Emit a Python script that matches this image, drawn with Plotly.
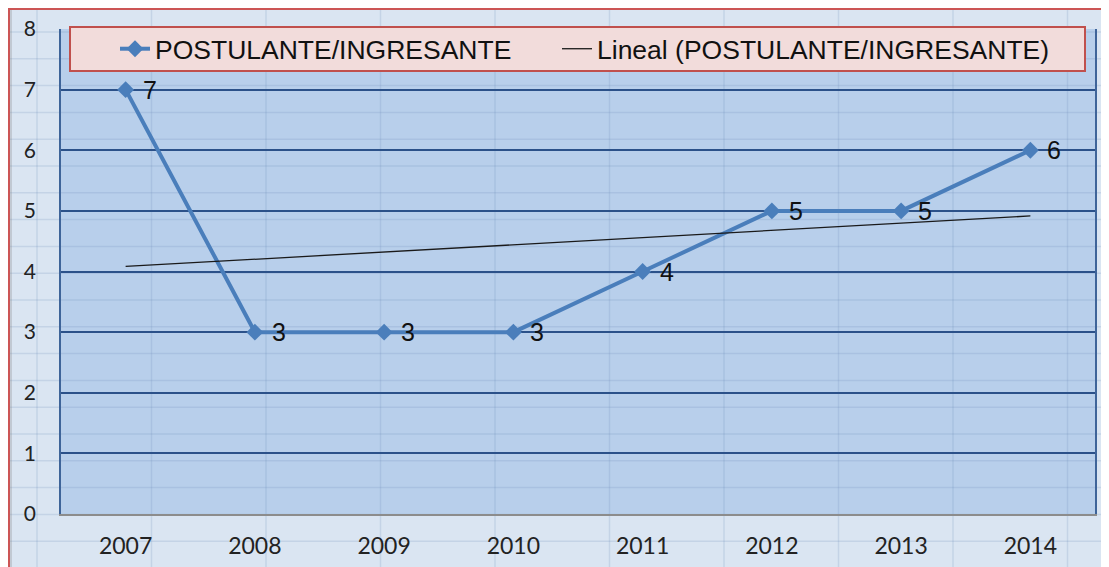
import numpy as np
import plotly.graph_objects as go

# ---- data ----
years = ["2007", "2008", "2009", "2010", "2011", "2012", "2013", "2014"]
ratio = [7, 3, 3, 3, 4, 5, 5, 6]
series_name = "POSTULANTE/INGRESANTE"
trend_name = "Lineal (POSTULANTE/INGRESANTE)"
y_ticks = [0, 1, 2, 3, 4, 5, 6, 7, 8]

# linear trend (least squares) computed from the series
idx = np.arange(len(ratio))
slope, intercept = np.polyfit(idx, ratio, 1)
trend = list(intercept + slope * idx)

# page body has an 8px margin; the figure starts at (8, 8) of the window
OFF = 8
W, H = 1101, 559
L, R, T, B = 61 - OFF, W - (1095 - OFF), 29 - OFF, H - (514 - OFF)
PW, PH = W - L - R, H - T - B


def px(x):  # x given in window pixels
    return (x - OFF - L) / PW


def py(y):  # y given in window pixels
    return (H - B - (y - OFF)) / PH


fig = go.Figure()
fig.add_trace(go.Scatter(
    x=years, y=ratio, name=series_name, mode="lines+markers",
    line=dict(color="#4a7ebb", width=4),
    marker=dict(symbol="diamond", size=13, color="#4a7ebb"),
    legend="legend",
))
fig.add_trace(go.Scatter(
    x=years, y=trend, name=trend_name, mode="lines",
    line=dict(color="#1a1a1a", width=1.3),
    legend="legend2",
))

for i, v in enumerate(ratio):
    fig.add_annotation(x=i, y=v, text=str(v), showarrow=False,
                       xanchor="left", yanchor="middle", xshift=15,
                       font=dict(family="Liberation Sans", size=25, color="#111"))

shapes = []
# chart area background with red border
shapes.append(dict(type="rect", xref="paper", yref="paper", layer="below",
                   x0=px(9), x1=px(1140), y0=py(9), y1=py(600),
                   fillcolor="#dae5f2", line=dict(color="#cc5555", width=2)))
# plot area fill
shapes.append(dict(type="rect", xref="paper", yref="paper", layer="below",
                   x0=0, x1=1, y0=0, y1=1, fillcolor="#b8cfeb", line=dict(width=0)))
# faint spreadsheet cell lines
cell = "rgba(110,140,185,0.2)"
for k in range(10):
    xp = 37 + 114.5 * k
    shapes.append(dict(type="line", xref="paper", yref="paper", layer="below",
                       x0=px(xp), x1=px(xp), y0=py(10), y1=py(600),
                       line=dict(color=cell, width=1.5)))
for k in range(21):
    yp = 32 + 26.8 * k
    shapes.append(dict(type="line", xref="paper", yref="paper", layer="below",
                       x0=px(10), x1=px(1140), y0=py(yp), y1=py(yp),
                       line=dict(color=cell, width=1.5)))
shapes.append(dict(type="line", xref="paper", yref="paper", layer="below",
                   x0=px(11), x1=px(11), y0=py(10), y1=py(600),
                   line=dict(color="rgba(120,120,120,0.5)", width=1)))
# legend box
shapes.append(dict(type="rect", xref="paper", yref="paper", layer="above",
                   x0=px(70), x1=px(1085), y0=py(27), y1=py(71),
                   fillcolor="#f2dcdb", line=dict(color="#c0504d", width=2)))

legend_font = dict(family="Liberation Sans", size=26.5, color="#111")
fig.update_layout(
    width=W, height=H, autosize=False,
    margin=dict(l=L, r=R, t=T, b=B, pad=0, autoexpand=False),
    paper_bgcolor="#dae5f2", plot_bgcolor="rgba(0,0,0,0)",
    shapes=shapes,
    showlegend=True,
    legend=dict(orientation="h", x=px(115), xanchor="left", y=py(49), yanchor="middle",
                bgcolor="rgba(0,0,0,0)", borderwidth=0, font=legend_font),
    legend2=dict(orientation="h", x=px(557), xanchor="left", y=py(49), yanchor="middle",
                 bgcolor="rgba(0,0,0,0)", borderwidth=0, font=legend_font),
    xaxis=dict(type="category", range=[-0.5, 7.5], showgrid=False, zeroline=False,
               showline=True, linecolor="#8c8c8c", linewidth=2,
               ticks="outside", ticklen=10, tickcolor="rgba(0,0,0,0)",
               tickfont=dict(family="Lato", size=23, color="#222")),
    yaxis=dict(range=[0, 8], tickvals=y_ticks, showgrid=True, gridcolor="#2b5189",
               gridwidth=1.5, zeroline=False, showline=True, mirror=True,
               linecolor="#3e6499", linewidth=1.5,
               ticks="outside", ticklen=19, tickcolor="rgba(0,0,0,0)",
               tickfont=dict(family="Lato", size=21, color="#222")),
)

fig.write_html("out.html")
